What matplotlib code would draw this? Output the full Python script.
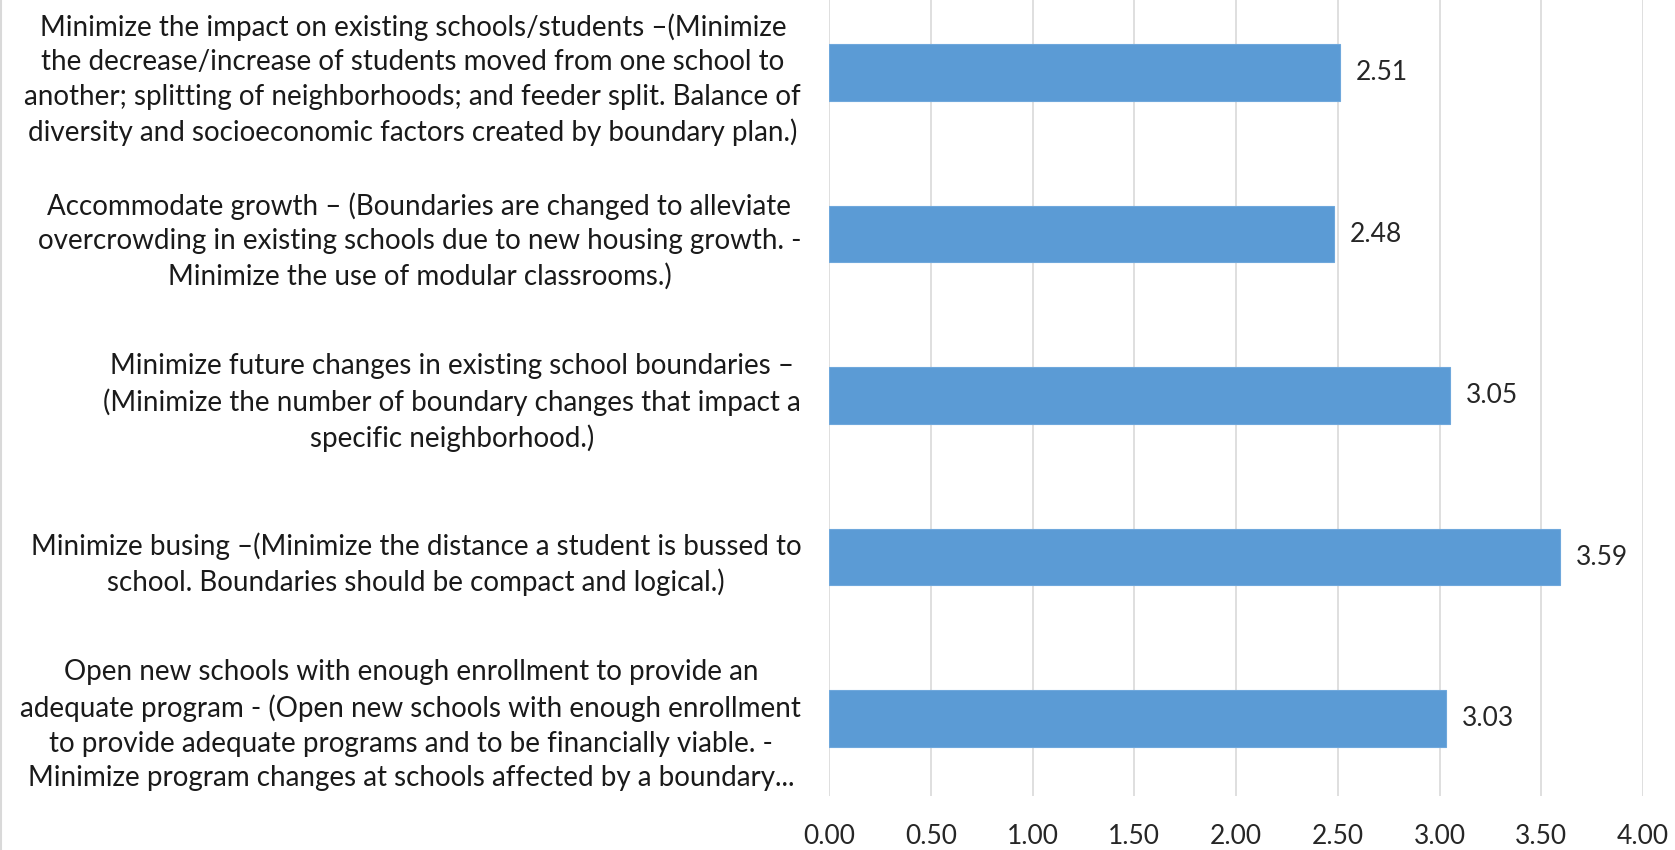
import numpy as np
import matplotlib.pyplot as plt

labels = [
    "Minimize the impact on existing schools/students \u2013(Minimize\n"
    "the decrease/increase of students moved from one school to\n"
    "another; splitting of neighborhoods; and feeder split. Balance of\n"
    "diversity and socioeconomic factors created by boundary plan.)",
    "Accommodate growth \u2013 (Boundaries are changed to alleviate\n"
    "overcrowding in existing schools due to new housing growth. -\n"
    "Minimize the use of modular classrooms.)",
    "Minimize future changes in existing school boundaries \u2013\n"
    "(Minimize the number of boundary changes that impact a\n"
    "specific neighborhood.)",
    "Minimize busing \u2013(Minimize the distance a student is bussed to\n"
    "school. Boundaries should be compact and logical.)",
    "Open new schools with enough enrollment to provide an\n"
    "adequate program - (Open new schools with enough enrollment\n"
    "to provide adequate programs and to be financially viable. -\n"
    "Minimize program changes at schools affected by a boundary...",
]
values = [2.51, 2.48, 3.05, 3.59, 3.03]
xticks = [0.0, 0.5, 1.0, 1.5, 2.0, 2.5, 3.0, 3.5, 4.0]

plt.rcParams['font.family'] = ['Lato', 'DejaVu Sans']

fig = plt.figure(figsize=(16.75, 8.5), dpi=100)
ax = fig.add_axes([829/1675, 54/850, (1643-829)/1675, 1 - 54/850])

y = np.arange(len(values))
ax.barh(y, values, height=0.35, color="#5B9BD5", edgecolor="#6FA8DC", linewidth=0.8, zorder=3)
for yi, v in zip(y, values):
    ax.text(v + 0.08, yi, f"{v:.2f}", va="center", ha="left", fontsize=19, color="#262626")

ax.set_xlim(0, 4)
ax.set_ylim(4.48, -0.45)
ax.set_xticks(xticks)
ax.set_xticklabels([f"{t:.2f}" for t in xticks], fontsize=19, color="#262626")
ax.set_yticks(y)
ax.set_yticklabels(labels, fontsize=20, color="#1a1a1a", multialignment="center", linespacing=1.4)
ax.tick_params(axis="y", length=0, pad=20)
ax.tick_params(axis="x", length=0, pad=20)
ax.grid(axis="x", color="#d9d9d9", linewidth=1.2, zorder=0)
for s in ax.spines.values():
    s.set_visible(False)

fig.add_artist(plt.Line2D([0.0008, 0.0008], [0, 1], color="#d9d9d9", linewidth=1.5))

fig.savefig("out.png", dpi=100)
